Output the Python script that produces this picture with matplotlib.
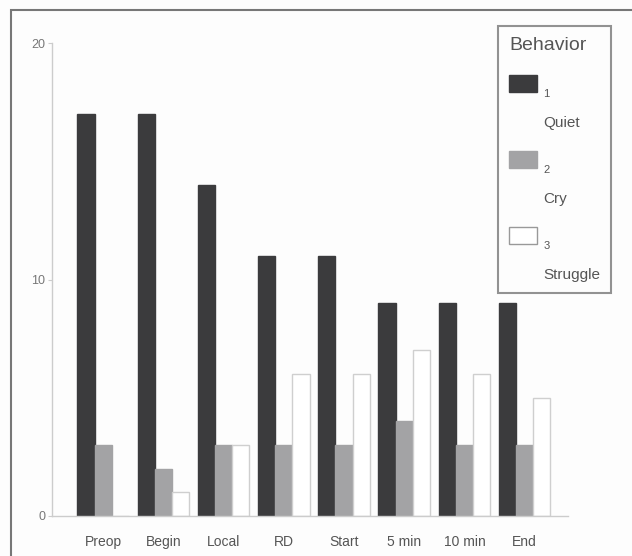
import matplotlib.pyplot as plt
import matplotlib.patches as mpatches
import numpy as np

plt.rcParams['font.family'] = ['Liberation Sans', 'DejaVu Sans']

categories = ['Preop', 'Begin', 'Local', 'RD', 'Start', '5 min', '10 min', 'End']
quiet = [17, 17, 14, 11, 11, 9, 9, 9]
cry = [3, 2, 3, 3, 3, 4, 3, 3]
struggle = [0, 1, 3, 6, 6, 7, 6, 5]
series_codes = ['1', '2', '3']
series_names = ['Quiet', 'Cry', 'Struggle']

colors = ['#3b3b3d', '#a3a3a5', '#ffffff']
edges = ['#3b3b3d', '#a3a3a5', '#cfcfcf']

fig = plt.figure(figsize=(6.32, 5.56), dpi=100)
fig.patch.set_facecolor('#fdfdfd')
ax = fig.add_axes([52 / 632, 40 / 556, 516 / 632, 473 / 556])
ax.set_facecolor('#fdfdfd')

x = np.arange(len(categories))
w = 0.285
for i, vals in enumerate([quiet, cry, struggle]):
    ax.bar(x + (i - 1) * w, vals, width=w, color=colors[i], edgecolor=edges[i], linewidth=1)

ax.set_xlim(-0.85, 7.72)
ax.set_ylim(0, 20)
ax.set_yticks([0, 10, 20])
ax.set_xticks(x)
ax.set_xticklabels(categories)
ax.tick_params(axis='x', length=0, pad=14, labelsize=10, colors='#555555')
ax.tick_params(axis='y', length=3, width=0.8, color='#cccccc', pad=2, labelsize=9, labelcolor='#777777')
for s in ['top', 'right']:
    ax.spines[s].set_visible(False)
for s in ['left', 'bottom']:
    ax.spines[s].set_color('#cccccc')
    ax.spines[s].set_linewidth(1)

# legend: code next to swatch, name on the line below
blank = mpatches.Patch(facecolor='none', edgecolor='none')
leg_handles = []
leg_labels = []
for i in range(3):
    leg_handles += [mpatches.Patch(facecolor=colors[i], edgecolor=edges[i] if i < 2 else '#999999'), blank]
    leg_labels += [series_codes[i], series_names[i]]
leg = fig.legend(leg_handles, leg_labels, title='Behavior', loc='upper right',
                 bbox_to_anchor=(611 / 632, 1 - 26 / 556), borderaxespad=0,
                 fontsize=11, title_fontsize=14, handlelength=1.85, handleheight=1.3,
                 handletextpad=0.4, labelspacing=1.4, borderpad=0.7,
                 fancybox=False, alignment='left', facecolor='#fdfdfd')
leg.get_frame().set_edgecolor('#777777')
leg.get_frame().set_linewidth(1.5)
leg.get_title().set_color('#555555')
for j, t in enumerate(leg.get_texts()):
    t.set_color('#555555')
    if j % 2 == 0:
        t.set_fontsize(8)
        t.set_verticalalignment('top')

# outer frame of the picture
fig.patches.append(mpatches.Rectangle((11 / 632, -0.1), 1.2, 1 - 10 / 556 + 0.1,
                                      transform=fig.transFigure, fill=False,
                                      edgecolor='#777777', linewidth=1.5))

plt.savefig('out.png', dpi=100)
